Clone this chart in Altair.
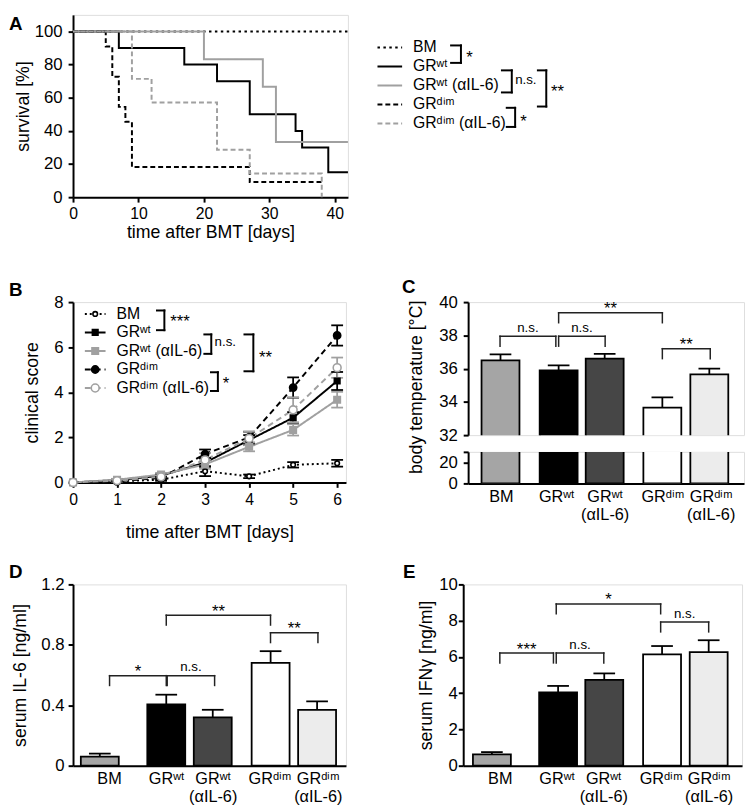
import altair as alt
import pandas as pd

FONT = "Liberation Sans"
GREY = "#a0a0a0"

# ------------------------------------------------------------------ data
series = ["BM", "GRʷᵗ", "GRʷᵗ (αIL-6)", "GRᵈⁱᵐ", "GRᵈⁱᵐ (αIL-6)"]

# A: survival (%), step after each event
surv_bm_day = [0, 42]
surv_bm_pct = [100, 100]
surv_wt_day = [0, 7, 17, 22, 27, 34, 35, 39, 42]
surv_wt_pct = [100, 90, 80, 70, 50, 40, 30, 15, 15]
surv_wta_day = [0, 20, 29, 31, 42]
surv_wta_pct = [100, 83.3, 66.7, 33.3, 33.3]
surv_dim_day = [0, 5, 6, 7, 8, 9, 27, 38]
surv_dim_pct = [100, 90.9, 72.7, 54.5, 45.5, 18.2, 9.1, 9.1]
surv_dima_day = [0, 9, 12, 22, 27, 38]
surv_dima_pct = [100, 71.4, 57.1, 28.6, 14.3, 0]

# B: clinical score (mean, sem)
score_day = [0, 1, 2, 3, 4, 5, 6]
score_bm = [0, 0.05, 0.12, 0.5, 0.27, 0.78, 0.85]
score_bm_sem = [0, 0.03, 0.05, 0.22, 0.08, 0.12, 0.15]
score_wt = [0, 0.1, 0.3, 0.88, 1.88, 2.87, 4.5]
score_wt_sem = [0, 0.04, 0.07, 0.2, 0.22, 0.25, 0.4]
score_wta = [0, 0.12, 0.35, 0.8, 1.58, 2.33, 3.67]
score_wta_sem = [0, 0.04, 0.07, 0.2, 0.2, 0.25, 0.35]
score_dim = [0, 0.05, 0.2, 1.26, 2.0, 4.21, 6.52]
score_dim_sem = [0, 0.03, 0.06, 0.2, 0.25, 0.45, 0.45]
score_dima = [0, 0.08, 0.25, 1.0, 1.95, 3.22, 5.09]
score_dima_sem = [0, 0.04, 0.07, 0.3, 0.3, 0.55, 0.45]

# bar panels
bar_cats = ["BM", "GRwt", "GRwt aIL-6", "GRdim", "GRdim aIL-6"]
bar_labels = ["BM", "GRʷᵗ", "GRʷᵗ\n(αIL-6)", "GRᵈⁱᵐ", "GRᵈⁱᵐ\n(αIL-6)"]
bar_fills = ["#a5a5a5", "#000000", "#464646", "#ffffff", "#ececec"]

temp_mean = [36.5, 35.9, 36.6, 33.65, 35.65]
temp_sem = [0.35, 0.3, 0.28, 0.62, 0.35]
il6_mean = [0.06, 0.405, 0.32, 0.68, 0.37]
il6_sem = [0.02, 0.065, 0.05, 0.078, 0.055]
ifng_mean = [0.62, 4.04, 4.73, 6.14, 6.27]
ifng_sem = [0.13, 0.36, 0.36, 0.46, 0.65]

# significance brackets: (left x, right x, level, label)
temp_brackets = [(0.58, 1.78, 37.95, "n.s."), (1.84, 2.84, 37.95, "n.s."),
                 (1.84, 4.07, 39.36, "**"), (4.07, 5.10, 37.2, "**")]
il6_brackets = [(0.68, 1.90, 0.596, "*"), (1.92, 2.94, 0.596, "n.s."),
                (1.90, 4.143, 0.996, "**"), (4.143, 5.163, 0.88, "**")]
ifng_brackets = [(0.68, 1.83, 6.21, "***"), (1.89, 2.91, 6.21, "n.s."),
                 (1.89, 4.13, 8.92, "*"), (4.13, 5.16, 7.92, "n.s.")]

# ------------------------------------------------------------------ helpers
def ax(**kw):
    base = dict(domainColor="black", domainWidth=2, tickColor="black", tickWidth=2,
                tickSize=5, labelColor="black", labelFont=FONT, labelFontSize=17,
                labelPadding=4, titleColor="black", titleFont=FONT, titleFontSize=18,
                titleFontWeight="normal", grid=False, labelFlush=False, labelOverlap=False)
    base.update(kw)
    return alt.Axis(**base)


def letter(ch, x, y):
    return alt.Chart(pd.DataFrame({"t": [ch]})).mark_text(
        align="left", baseline="top", font=FONT, fontSize=19, fontWeight="bold", color="black"
    ).encode(x=alt.value(x), y=alt.value(y), text="t:N")


def indep(c):
    return c.resolve_scale(color="independent", fill="independent", stroke="independent",
                           strokeDash="independent", shape="independent", size="independent")


line_color = alt.Scale(domain=series, range=["black", "black", GREY, "black", GREY])
STAR_FS, NS_FS = 17, 13.5
PX = dict(scale=None, axis=None)


def px_brackets(brs):
    """legend-side brackets in pixel space: (x, ytop, ybot, tick, label, label x, label centre)"""
    segs, stars, ns = [], [], []
    for xv, yt, yb, tk, lab, lx, lc in brs:
        segs += [dict(x=xv, x2=xv, y=yt, y2=yb), dict(x=xv - tk, x2=xv, y=yt, y2=yt),
                 dict(x=xv - tk, x2=xv, y=yb, y2=yb)]
        if "*" in lab:
            stars.append(dict(x=lx, y=lc + 0.58 * STAR_FS, t=lab))
        else:
            ns.append(dict(x=lx, y=lc + 0.26 * NS_FS, t=lab))
    rules = alt.Chart(pd.DataFrame(segs)).mark_rule(strokeWidth=2, color="black",
                                                    strokeCap="square").encode(
        x=alt.X("x:Q", **PX), x2="x2:Q", y=alt.Y("y:Q", **PX), y2="y2:Q")
    t1 = alt.Chart(pd.DataFrame(stars)).mark_text(align="left", baseline="alphabetic", font=FONT,
                                                  fontSize=STAR_FS, color="black").encode(
        x=alt.X("x:Q", **PX), y=alt.Y("y:Q", **PX), text="t:N")
    t2 = alt.Chart(pd.DataFrame(ns)).mark_text(align="left", baseline="alphabetic", font=FONT,
                                               fontSize=NS_FS, color="black").encode(
        x=alt.X("x:Q", **PX), y=alt.Y("y:Q", **PX), text="t:N")
    return [rules, t1, t2]


# ------------------------------------------------------------------ panel A
A_W, A_H = 279, 185
rowsA = []
for g, ds, ps in zip(series,
                     [surv_bm_day, surv_wt_day, surv_wta_day, surv_dim_day, surv_dima_day],
                     [surv_bm_pct, surv_wt_pct, surv_wta_pct, surv_dim_pct, surv_dima_pct]):
    for d, p in zip(ds, ps):
        rowsA.append(dict(group=g, day=d, surv=p))
dfA = pd.DataFrame(rowsA)
dashA = alt.Scale(domain=series, range=[[2.5, 3.5], [1, 0], [1, 0], [5, 3], [5, 3]])

linesA = alt.Chart(dfA).mark_line(interpolate="step-after", strokeWidth=2).encode(
    x=alt.X("day:Q", scale=alt.Scale(domain=[0, 42], nice=False, zero=False),
            axis=ax(values=[0, 10, 20, 30, 40], title="time after BMT [days]",
                    labelFontSize=16, labelPadding=4, titlePadding=2)),
    y=alt.Y("surv:Q", scale=alt.Scale(domain=[0, 110], nice=False),
            axis=ax(values=[0, 20, 40, 60, 80, 100], title="survival [%]",
                    labelPadding=6, titlePadding=2)),
    color=alt.Color("group:N", scale=line_color, legend=None),
    strokeDash=alt.StrokeDash("group:N", scale=dashA, legend=None),
)
legA = pd.DataFrame({"group": series, "ly": [33 + 19.3 * i for i in range(5)]})
legA_lines = alt.Chart(legA).mark_rule(strokeWidth=2).encode(
    x=alt.value(309), x2=alt.value(334), y=alt.Y("ly:Q", **PX),
    color=alt.Color("group:N", scale=line_color, legend=None),
    strokeDash=alt.StrokeDash("group:N", scale=dashA, legend=None))
legA_text = alt.Chart(legA).mark_text(align="left", baseline="middle", font=FONT, fontSize=16,
                                      color="black").encode(
    x=alt.value(345), y=alt.Y("ly:Q", **PX), text="group:N")
brA = px_brackets([
    (393.7, 31, 48.7, 10, "*", 399, 38.7),
    (445.3, 56.3, 78.7, 10, "n.s.", 448.7, 66.3),
    (480.3, 56.3, 93, 8.5, "**", 485, 73.5),
    (448.7, 94.3, 113.7, 8.5, "*", 454, 104.3),
])
chartA = alt.layer(linesA, legA_lines, legA_text, *brA, letter("A", -65, 0)).properties(
    width=A_W, height=A_H)

# ------------------------------------------------------------------ panel B
B_W, B_H = 277, 183
rowsB = []
for g, m, s in zip(series, [score_bm, score_wt, score_wta, score_dim, score_dima],
                   [score_bm_sem, score_wt_sem, score_wta_sem, score_dim_sem, score_dima_sem]):
    for d, mv, sv in zip(score_day, m, s):
        rowsB.append(dict(group=g, day=d, score=mv, lo=mv - sv, hi=mv + sv))
dfB = pd.DataFrame(rowsB)
dfB_err = dfB[dfB.hi > dfB.score]
dfB_caps = pd.concat([dfB_err.assign(v=dfB_err.lo), dfB_err.assign(v=dfB_err.hi)])
dashB = alt.Scale(domain=series, range=[[2, 3], [1, 0], [1, 0], [6, 4], [6, 4]])
shapeB = alt.Scale(domain=series, range=["circle", "square", "square", "circle", "circle"])
fillB = alt.Scale(domain=series, range=["white", "black", GREY, "black", "white"])
strokeB = alt.Scale(domain=series, range=["black", "black", GREY, "black", GREY])
sizeB = alt.Scale(domain=series, range=[22, 64, 64, 50, 42])
xsB = alt.Scale(domain=[0, 6.2], nice=False, zero=False)
ysB = alt.Scale(domain=[0, 8], nice=False)
xaxB = ax(values=list(range(7)), title="time after BMT [days]", labelFontSize=16,
          labelPadding=4, titlePadding=17)
yaxB = ax(values=[0, 2, 4, 6, 8], title="clinical score", labelPadding=5, titlePadding=13)

linesB = alt.Chart(dfB).mark_line(strokeWidth=2).encode(
    x=alt.X("day:Q", scale=xsB, axis=xaxB), y=alt.Y("score:Q", scale=ysB, axis=yaxB),
    color=alt.Color("group:N", scale=line_color, legend=None),
    strokeDash=alt.StrokeDash("group:N", scale=dashB, legend=None))
errB = alt.Chart(dfB_err).mark_rule(strokeWidth=1.8).encode(
    x=alt.X("day:Q", scale=xsB, axis=xaxB), y=alt.Y("lo:Q", scale=ysB, axis=yaxB), y2="hi:Q",
    color=alt.Color("group:N", scale=line_color, legend=None))
capB = alt.Chart(dfB_caps).mark_tick(orient="horizontal", size=12, thickness=1.8, opacity=1).encode(
    x=alt.X("day:Q", scale=xsB, axis=xaxB), y=alt.Y("v:Q", scale=ysB, axis=yaxB),
    color=alt.Color("group:N", scale=line_color, legend=None))
ptsB = alt.Chart(dfB).mark_point(opacity=1, strokeWidth=1.6).encode(
    x=alt.X("day:Q", scale=xsB, axis=xaxB), y=alt.Y("score:Q", scale=ysB, axis=yaxB),
    shape=alt.Shape("group:N", scale=shapeB, legend=None),
    fill=alt.Fill("group:N", scale=fillB, legend=None),
    stroke=alt.Stroke("group:N", scale=strokeB, legend=None),
    size=alt.Size("group:N", scale=sizeB, legend=None))
legB = pd.DataFrame({"group": series, "ly": [12 + 18.8 * i for i in range(5)]})
legB_lines = alt.Chart(legB).mark_rule(strokeWidth=2).encode(
    x=alt.value(12), x2=alt.value(33), y=alt.Y("ly:Q", **PX),
    color=alt.Color("group:N", scale=line_color, legend=None),
    strokeDash=alt.StrokeDash("group:N", scale=dashB, legend=None))
legB_pts = alt.Chart(legB).mark_point(opacity=1, strokeWidth=1.6).encode(
    x=alt.value(22.5), y=alt.Y("ly:Q", **PX),
    shape=alt.Shape("group:N", scale=shapeB, legend=None),
    fill=alt.Fill("group:N", scale=fillB, legend=None),
    stroke=alt.Stroke("group:N", scale=strokeB, legend=None),
    size=alt.Size("group:N", scale=sizeB, legend=None))
legB_text = alt.Chart(legB).mark_text(align="left", baseline="middle", font=FONT, fontSize=16,
                                      color="black").encode(
    x=alt.value(44), y=alt.Y("ly:Q", **PX), text="group:N")
brB = px_brackets([
    (92.7, 8.5, 28.5, 7.5, "***", 98.7, 15.2),
    (140.3, 32.8, 52.5, 7, "n.s.", 143.7, 41.2),
    (183, 32.8, 70.2, 9, "**", 188.7, 51.8),
    (147, 71.2, 90.2, 7, "*", 152, 78.5),
])
chartB = alt.layer(linesB, errB, capB, ptsB, legB_lines, legB_pts, legB_text, *brB,
                   letter("B", -65, -21.5)).properties(width=B_W, height=B_H)


# ------------------------------------------------------------------ bar panels
fill_scale = alt.Scale(domain=bar_cats, range=bar_fills)


def bar_df(means, sems, xpos, labx):
    return pd.DataFrame({"cat": bar_cats, "mean": means, "top": [m + s for m, s in zip(means, sems)],
                         "pos": xpos, "lx": labx, "lab": bar_labels})


def bar_layers(df, xsc, ysc, xaxis, yaxis, clip=False, errors=True):
    layers = [alt.Chart(df).mark_bar(size=38.5, orient="vertical", stroke="black", strokeWidth=1.8,
                                     clip=clip).encode(
        x=alt.X("pos:Q", scale=xsc, axis=xaxis), y=alt.Y("mean:Q", scale=ysc, axis=yaxis),
        fill=alt.Fill("cat:N", scale=fill_scale, legend=None))]
    if errors:
        layers.append(alt.Chart(df).mark_rule(strokeWidth=1.8, color="black", clip=clip).encode(
            x=alt.X("pos:Q", scale=xsc, axis=xaxis), y=alt.Y("mean:Q", scale=ysc, axis=yaxis),
            y2="top:Q"))
        layers.append(alt.Chart(df).mark_tick(orient="horizontal", size=22, thickness=1.8,
                                              color="black", opacity=1, clip=clip).encode(
            x=alt.X("pos:Q", scale=xsc, axis=xaxis), y=alt.Y("top:Q", scale=ysc, axis=yaxis)))
    return layers


def data_brackets(brs, drop, xsc, ysc, xaxis, yaxis):
    segs, stars, ns = [], [], []
    for xl, xr, lv, lab in brs:
        segs += [dict(x=xl, x2=xr, y=lv, y2=lv), dict(x=xl, x2=xl, y=lv, y2=lv - drop),
                 dict(x=xr, x2=xr, y=lv, y2=lv - drop)]
        (stars if "*" in lab else ns).append(dict(x=(xl + xr) / 2, y=lv, t=lab))
    out = [alt.Chart(pd.DataFrame(segs)).mark_rule(strokeWidth=1.5, color="#222222",
                                                   strokeCap="square").encode(
        x=alt.X("x:Q", scale=xsc, axis=xaxis), x2="x2:Q",
        y=alt.Y("y:Q", scale=ysc, axis=yaxis), y2="y2:Q")]
    if stars:
        out.append(alt.Chart(pd.DataFrame(stars)).mark_text(
            baseline="alphabetic", dy=1.5, font=FONT, fontSize=STAR_FS, color="black").encode(
            x=alt.X("x:Q", scale=xsc, axis=xaxis), y=alt.Y("y:Q", scale=ysc, axis=yaxis),
            text="t:N"))
    if ns:
        out.append(alt.Chart(pd.DataFrame(ns)).mark_text(
            baseline="alphabetic", dy=-4.5, font=FONT, fontSize=NS_FS, color="black").encode(
            x=alt.X("x:Q", scale=xsc, axis=xaxis), y=alt.Y("y:Q", scale=ysc, axis=yaxis),
            text="t:N"))
    return out


def xlabels(df, xsc, xaxis, H):
    return alt.Chart(df).mark_text(align="center", baseline="top", lineBreak="\n", lineHeight=18,
                                   font=FONT, fontSize=16.5, color="black").encode(
        x=alt.X("lx:Q", scale=xsc, axis=xaxis), y=alt.value(H + 6), text="lab:N")


x_axis_bar = alt.Axis(labels=False, ticks=False, title=None, domainColor="black", domainWidth=2,
                      grid=False)

# C: body temperature with broken axis
C_W, C_TOP, C_BOT = 280, 135, 32
dfC = bar_df(temp_mean, temp_sem, [0.59, 1.84, 2.83, 4.07, 5.08], [0.61, 1.80, 2.84, 4.08, 5.12])
xsC = alt.Scale(domain=[0, 5.72], nice=False, zero=False)
ysC_top = alt.Scale(domain=[32, 40], nice=False, zero=False)
ysC_bot = alt.Scale(domain=[0, 30], nice=False)
yaxC_top = ax(values=[32, 34, 36, 38, 40], title="body temperature [°C]", labelPadding=6,
              titlePadding=13, titleY=86, titleAlign="center")
yaxC_bot = ax(values=[0, 20, 30], labelExpr="datum.value == 30 ? '' : datum.label",
              title=None, labelPadding=6)
C_top = alt.layer(
    *bar_layers(dfC, xsC, ysC_top, None, yaxC_top, clip=True),
    *data_brackets(temp_brackets, 0.6, xsC, ysC_top, None, yaxC_top),
    letter("C", -67, -24),
).properties(width=C_W, height=C_TOP)
C_bot = alt.layer(
    *bar_layers(dfC, xsC, ysC_bot, x_axis_bar, yaxC_bot, clip=True, errors=False),
    xlabels(dfC, xsC, x_axis_bar, C_BOT),
).properties(width=C_W, height=C_BOT)
chartC = alt.vconcat(C_top, C_bot, spacing=17, bounds="flush")

# D: serum IL-6
D_W, D_H = 277, 184
dfD = bar_df(il6_mean, il6_sem, [0.47, 1.90, 2.90, 4.145, 5.145], [0.68, 1.91, 2.91, 4.13, 5.17])
xsD = alt.Scale(domain=[0, 5.66], nice=False, zero=False)
ysD = alt.Scale(domain=[0, 1.2], nice=False)
yaxD = ax(values=[0, 0.4, 0.8, 1.2], title="serum IL-6 [ng/ml]",
          labelExpr="datum.value == 0 ? '0' : format(datum.value, '.1f')",
          labelPadding=4, titlePadding=12)
chartD = alt.layer(
    *bar_layers(dfD, xsD, ysD, x_axis_bar, yaxD),
    *data_brackets(il6_brackets, 0.065, xsD, ysD, x_axis_bar, yaxD),
    xlabels(dfD, xsD, x_axis_bar, D_H),
    letter("D", -65, -21),
).properties(width=D_W, height=D_H)

# E: serum IFN-gamma
E_W, E_H = 283, 184
dfE = bar_df(ifng_mean, ifng_sem, [0.51, 1.93, 2.92, 4.16, 5.16], [0.69, 1.91, 2.91, 4.14, 5.17])
xsE = alt.Scale(domain=[0, 5.77], nice=False, zero=False)
ysE = alt.Scale(domain=[0, 10], nice=False)
yaxE = ax(values=[0, 2, 4, 6, 8, 10], title="serum IFNγ [ng/ml]", labelPadding=1, titlePadding=3)
chartE = alt.layer(
    *bar_layers(dfE, xsE, ysE, x_axis_bar, yaxE),
    *data_brackets(ifng_brackets, 0.54, xsE, ysE, x_axis_bar, yaxE),
    xlabels(dfE, xsE, x_axis_bar, E_H),
    letter("E", -61, -21),
).properties(width=E_W, height=E_H)

# ------------------------------------------------------------------ layout
row2 = indep(alt.hconcat(chartB, indep(chartC), spacing=55))
row3 = indep(alt.hconcat(chartD, chartE, spacing=56))
top2 = indep(alt.vconcat(chartA, row2, spacing=35.5))
chart = indep(alt.vconcat(top2, row3, spacing=21)).properties(
    padding=0
).configure_view(stroke=None).configure(font=FONT)

chart.save("out.html", embed_options={"renderer": "svg", "actions": False})
